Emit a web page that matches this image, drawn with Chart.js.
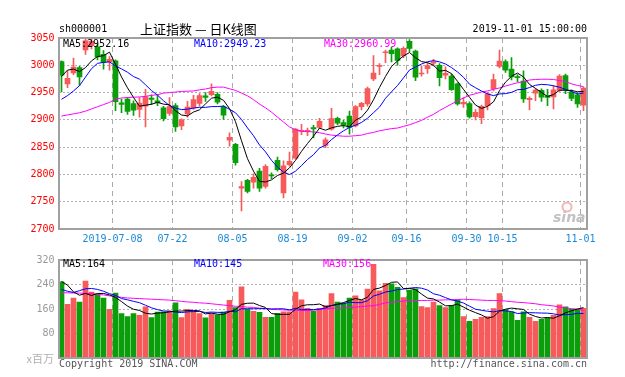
<!DOCTYPE html>
<html>
<head>
<meta charset="utf-8">
<script src="https://cdn.jsdelivr.net/npm/chart.js@4.4.0/dist/chart.umd.min.js"></script>
<style>
    body { margin: 0; background: #fff; width: 625px; height: 377px; overflow: hidden; position: relative; }
    #grafico-k { position: absolute; left: 0; top: 0; }
    #grafico-vol { position: absolute; left: 0; top: 250px; }
</style>
</head>
<body>
<canvas id="grafico-k" width="625" height="250"></canvas>
<canvas id="grafico-vol" width="625" height="127"></canvas>
<script>
var dias = [
    '2019-06-25','2019-06-26','2019-06-27','2019-06-28',
    '2019-07-01','2019-07-02','2019-07-03','2019-07-04','2019-07-05','2019-07-08','2019-07-09','2019-07-10','2019-07-11','2019-07-12',
    '2019-07-15','2019-07-16','2019-07-17','2019-07-18','2019-07-19','2019-07-22','2019-07-23','2019-07-24','2019-07-25','2019-07-26',
    '2019-07-29','2019-07-30','2019-07-31',
    '2019-08-01','2019-08-02','2019-08-05','2019-08-06','2019-08-07','2019-08-08','2019-08-09','2019-08-12','2019-08-13','2019-08-14',
    '2019-08-15','2019-08-16','2019-08-19','2019-08-20','2019-08-21','2019-08-22','2019-08-23','2019-08-26','2019-08-27','2019-08-28',
    '2019-08-29','2019-08-30',
    '2019-09-02','2019-09-03','2019-09-04','2019-09-05','2019-09-06','2019-09-09','2019-09-10','2019-09-11','2019-09-12','2019-09-16',
    '2019-09-17','2019-09-18','2019-09-19','2019-09-20','2019-09-23','2019-09-24','2019-09-25','2019-09-26','2019-09-27','2019-09-30',
    '2019-10-08','2019-10-09','2019-10-10','2019-10-11','2019-10-14','2019-10-15','2019-10-16','2019-10-17','2019-10-18','2019-10-21',
    '2019-10-22','2019-10-23','2019-10-24','2019-10-25','2019-10-28','2019-10-29','2019-10-30','2019-10-31',
    '2019-11-01'
];
var diasMarcados = ['2019-07-08','2019-07-22','2019-08-05','2019-08-19','2019-09-02','2019-09-16','2019-09-30','2019-10-15','2019-11-01'];

var abertura = [3007,2966,2986,2996,3028,3036,3034,3020,3006,3008,
    2931,2938,2930,2919,2925,2940,2935,2922,2912,2926,
    2889,2911,2922,2930,2944,2946,2947,2924,2863,2855,
    2775,2789,2786,2806,2778,2799,2826,2766,2818,2830,
    2879,2879,2886,2886,2853,2883,2903,2895,2907,2889,
    2924,2929,2975,2998,3023,3028,3030,3017,3044,3026,
    2984,2994,3004,3000,2982,2980,2966,2929,2930,2906,
    2904,2926,2957,2998,3007,2993,2978.5,2971,2937,2949,
    2954,2944,2942,2954,2981,2951,2946,2927];
var maxima = [3008,2990,3013,2998,3049,3048,3040,3027,3016,3010,
    2938,2941,2935,2941,2956,2946,2946,2925,2941,2930,
    2902,2934,2945,2948,2950,2966,2950,2926,2876,2857,
    2787,2791,2801,2811,2818,2803,2832,2825,2841,2884,
    2892,2885,2890,2903,2867,2921,2905,2899,2916,2926,
    2932,2960,3018,3003,3028,3033,3032,3034,3047,3028,
    2999,3004,3011,3003,2997,2984,2968,2941,2933,2919,
    2927,2950,2984,3028,3010,3014,2983,2990,2942,2957,
    2957,2956,2963,2983,2984,2955,2950,2960];
var minima = [2951,2959,2983,2963,3020,3030,3010,2993,2991,2917,
    2913,2910,2908,2905,2887,2928,2926,2898,2908,2879,
    2882,2905,2919,2925,2934,2944,2929,2901,2852,2817,
    2733,2766,2775,2769,2775,2792,2806,2757,2815,2828,
    2873,2871,2867,2884,2849,2881,2891,2885,2874,2887,
    2918,2925,2972,2983,3005,3006,3000,3014,3025,2972,
    2980,2985,2999,2962,2975,2954,2927,2923,2903,2900,
    2893,2918,2953,2995,2987,2973,2970,2932,2918,2935,
    2934,2926,2920,2952,2948,2935,2923,2917];
var fechamento = [2982.07,2976.28,2996.79,2978.88,3044.90,3043.94,3015.26,3005.25,3011.06,2933.36,
    2928.23,2915.30,2917.76,2930.55,2942.19,2937.62,2931.69,2901.95,2924.20,2886.97,
    2899.94,2923.28,2937.36,2944.54,2941.01,2952.34,2932.51,2908.77,2867.84,2821.50,
    2777.56,2768.68,2794.55,2774.75,2814.99,2797.26,2808.91,2815.80,2823.82,2883.10,
    2880.00,2880.33,2883.44,2897.43,2863.57,2902.19,2893.76,2890.92,2886.24,2924.11,
    2930.15,2957.41,2985.86,2999.60,3024.74,3021.20,3008.81,3031.24,3030.75,2978.12,
    2985.34,2999.28,3006.45,2977.08,2985.34,2955.43,2929.09,2932.17,2905.19,2913.57,
    2924.86,2947.71,2973.66,3007.88,2991.05,2978.71,2977.33,2938.14,2939.62,2954.38,
    2941.62,2940.92,2954.93,2980.05,2954.18,2939.32,2929.06,2958.20];

var ma5 = [2979.42,2991.12,2993.05,2988.43,2995.78,3008.16,3015.95,3017.65,3024.08,3001.77,
    2978.63,2958.64,2941.14,2925.04,2926.81,2928.68,2931.96,2928.80,2927.53,2916.49,
    2908.95,2907.27,2914.35,2918.42,2929.23,2939.71,2941.55,2935.83,2920.49,2896.59,
    2861.64,2828.87,2806.03,2787.41,2786.11,2790.05,2798.09,2802.34,2812.16,2825.78,
    2842.33,2856.61,2870.14,2884.86,2880.95,2885.39,2888.08,2889.57,2887.34,2899.44,
    2905.04,2917.77,2936.75,2959.43,2979.55,2997.76,3008.04,3017.12,3023.35,3014.02,
    3006.85,3004.95,2999.99,2989.25,2990.70,2984.72,2970.68,2955.82,2941.44,2927.09,
    2920.98,2924.70,2933.00,2953.54,2969.03,2979.80,2985.73,2978.62,2964.97,2957.64,
    2950.22,2942.94,2946.29,2954.38,2954.34,2953.88,2951.51,2952.16];
var ma10 = [2937.70,2944.39,2952.99,2962.69,2978.41,2993.79,3003.54,3005.35,3006.26,2998.78,
    2993.40,2987.30,2979.39,2974.56,2964.29,2953.66,2945.30,2934.97,2926.29,2921.65,
    2918.82,2919.62,2921.58,2922.97,2922.86,2924.33,2924.41,2925.09,2919.46,2912.91,
    2900.67,2885.21,2870.93,2853.95,2841.35,2825.84,2813.48,2804.18,2799.78,2805.94,
    2816.19,2827.35,2836.24,2848.51,2853.37,2863.86,2872.34,2879.86,2886.10,2890.20,
    2895.21,2902.92,2913.16,2923.38,2939.50,2951.40,2962.90,2976.94,2991.39,2996.79,
    3002.31,3006.49,3008.55,3006.30,3002.36,2995.78,2987.81,2977.91,2965.35,2958.89,
    2952.85,2947.69,2944.41,2947.49,2948.06,2950.39,2955.21,2955.81,2959.25,2963.33,
    2965.01,2964.33,2962.46,2959.68,2955.99,2952.05,2947.22,2949.23];
var ma30 = [2907,2909,2911,2913,2916,2920,2924,2928,2932,2938,
    2940,2941,2941.5,2942,2943,2945,2946,2949,2950,2951,
    2952,2952.5,2953,2955,2956.5,2959,2960,2960,2957,2954,
    2949,2944,2937,2929,2922,2914,2905,2896,2887,2882,
    2879,2878.5,2878,2876.5,2874,2872,2871,2870,2870,2871,
    2872,2875,2877,2880,2882,2884,2885,2888,2891,2895,
    2899,2905,2910,2917,2923,2929,2935,2940,2945,2948,
    2951,2953,2956,2958.5,2962,2965,2968,2970,2973,2974,
    2974.4,2974.4,2974,2972,2970,2966,2963,2960.99];

var volume = [249,175,196,183,251,215,209,196,159,212,
    145,135,145,139,167,132,150,151,153,180,
    132,159,153,145,131,145,141,150,188,165,
    232,159,152,149,133,133,146,151,151,215,
    190,162,152,162,171,210,183,179,196,203,
    189,225,306,219,244,242,231,197,222,226,
    168,165,183,171,165,171,189,135,120,126,
    133,135,161,210,158,151,123,151,133,120,
    126,131,139,174,167,160,160,162];
var volMa5 = [250,238,216,205,210.8,204,210.8,210.8,206,198.2,
    184.2,169.4,159.2,155.2,146.2,143.6,146.6,147.8,150.6,153.2,
    153.2,155,155.4,153.8,144,146.6,143,142.4,151,157.8,
    175.2,178.8,179.2,171.4,165,145.2,142.6,142.4,142.8,159.2,
    170.6,173.8,174,176.2,167.4,171.4,175.6,181,187.8,194.2,
    190,198.4,223.8,228.4,236.6,247.2,248.4,226.6,227.2,223.6,
    208.8,195.6,192.8,182.6,170.4,171,175.8,166.2,156,148.2,
    140.6,129.8,135,153,159.4,163,160.6,158.6,143.2,135.6,
    130.6,132.2,129.8,138,147.4,154.2,160,164.6];
var volMa10 = [224,218,214,220,226,227,224,218,210,204.5,
    194.1,190.1,185,180.6,172.2,163.9,158,153.5,152.9,149.7,
    148.4,150.8,151.6,152.2,148.6,149.9,149,148.9,152.4,150.9,
    160.9,160.9,160.8,161.2,161.4,160.2,160.7,160.8,157.1,162.1,
    157.9,158.2,158.2,159.5,163.3,171,174.7,177.5,182,180.8,
    180.7,187,202.4,208.1,215.4,218.6,223.4,225.2,227.8,230.1,
    228,222,209.7,204.9,197,189.9,185.7,179.5,169.3,159.3,
    155.8,152.8,150.6,154.5,153.8,151.8,145.2,146.8,148.1,147.5,
    146.8,146.4,144.2,140.6,141.5,142.4,146.1,145.2];
var volMa30 = [213,213,212,212,211,210,208,206,203,201,
    198,196,195,194,193,192,191,190,189,187,
    185,183,182,180,179,177,175,173,171,169,
    168,166,165,163,161,159,158,157,156,156,
    155,155,156,158,161,162,163,164,165,166,
    168,170,171,175,180,182,184,186,187,187,
    188,188,189,189,190,190,191,192,191,190,
    189,188,188,187,186,184,182,181,179,177,
    174,172,170,166,164,161,159,156];

var precoMin = 2700, precoMax = 3050, precoPasso = 50;
var volMin = 0, volMax = 320, volPasso = 80;

var vermelho = '#f75a5a';
var verde = '#0a9e0a';
var mono = '"DejaVu Sans Mono", monospace';

Chart.defaults.font.family = mono;
Chart.defaults.font.size = 10;

var cores = fechamento.map(function(c, i) { return c >= abertura[i] ? vermelho : verde; });

function rotuloDia(i) {
    var d = dias[i];
    if (diasMarcados.indexOf(d) < 0) return '';
    return d === diasMarcados[0] ? d : d.slice(5);
}

function corGradeX(ctx) {
    return diasMarcados.indexOf(dias[ctx.index]) >= 0 ? '#aaaaaa' : 'rgba(0,0,0,0)';
}

function linhaMedia(dados, cor) {
    return { type: 'line', data: dados, borderColor: cor, borderWidth: 1, pointRadius: 0, tension: 0, order: 0 };
}

function moldura(chart) {
    var ctx = chart.ctx, a = chart.chartArea;
    ctx.strokeStyle = '#a0a0a0';
    ctx.lineWidth = 2;
    ctx.strokeRect(Math.round(a.left), Math.round(a.top), Math.round(a.right) - Math.round(a.left), Math.round(a.bottom) - Math.round(a.top));
}

var textosK = {
    id: 'textosK',
    beforeDraw: function(chart) {
        chart.ctx.save();
        chart.ctx.fillStyle = '#fff';
        chart.ctx.fillRect(0, 0, chart.width, chart.height);
        chart.ctx.restore();
    },
    afterDraw: function(chart) {
        var ctx = chart.ctx;
        ctx.save();
        moldura(chart);
        ctx.textBaseline = 'middle';
        ctx.font = '10px ' + mono;
        ctx.fillStyle = '#000';
        ctx.textAlign = 'left';
        ctx.fillText('sh000001', 59, 29);
        ctx.textAlign = 'right';
        ctx.fillText('2019-11-01 15:00:00', 587, 29);
        ctx.textAlign = 'left';
        ctx.font = '13px "Noto Sans CJK SC"';
        ctx.fillText('上证指数 — 日K线图', 140, 29);

        ctx.font = '10px ' + mono;
        ctx.fillStyle = '#000';
        ctx.fillText('MA5:' + ma5[ma5.length - 1].toFixed(2), 63, 44);
        ctx.fillStyle = '#0000ff';
        ctx.fillText('MA10:' + ma10[ma10.length - 1].toFixed(2), 194, 44);
        ctx.fillStyle = '#ff00ff';
        ctx.fillText('MA30:' + ma30[ma30.length - 1].toFixed(2), 324, 44);

        // marca d'agua sina
        ctx.strokeStyle = '#f6b4b4';
        ctx.lineWidth = 2;
        ctx.beginPath();
        ctx.arc(567, 207, 4.5, 0, Math.PI * 2);
        ctx.stroke();
        ctx.font = 'italic bold 14px "DejaVu Sans"';
        ctx.fillStyle = '#c2c2c2';
        ctx.fillText('sina', 553, 218);
        ctx.restore();
    }
};

var textosVol = {
    id: 'textosVol',
    beforeDraw: textosK.beforeDraw,
    afterDraw: function(chart) {
        var ctx = chart.ctx;
        ctx.save();
        moldura(chart);
        ctx.textBaseline = 'middle';
        ctx.textAlign = 'left';
        ctx.font = '10px ' + mono;
        ctx.fillStyle = '#000';
        ctx.fillText('MA5:' + Math.floor(volMa5[volMa5.length - 1]), 63, 14.5);
        ctx.fillStyle = '#0000ff';
        ctx.fillText('MA10:' + Math.floor(volMa10[volMa10.length - 1]), 194, 14.5);
        ctx.fillStyle = '#ff00ff';
        ctx.fillText('MA30:' + Math.floor(volMa30[volMa30.length - 1]), 323, 14.5);

        ctx.fillStyle = '#555';
        ctx.fillText('Copyright 2019 SINA.COM', 59, 114);
        ctx.textAlign = 'right';
        ctx.fillText('http://finance.sina.com.cn', 587, 114);
        ctx.fillStyle = '#b0b0b0';
        ctx.font = '11px "Noto Sans CJK SC"';
        ctx.fillText('x百万', 54, 108.5);
        ctx.restore();
    }
};

new Chart(document.getElementById('grafico-k'), {
    type: 'bar',
    data: {
        labels: dias,
        datasets: [
            linhaMedia(ma5, '#000000'),
            linhaMedia(ma10, '#0000ff'),
            linhaMedia(ma30, '#ff00ff'),
            {
                data: abertura.map(function(o, i) { return [o, fechamento[i]]; }),
                backgroundColor: cores,
                barThickness: 5,
                minBarLength: 1,
                grouped: false,
                order: 1
            },
            {
                data: minima.map(function(l, i) { return [l, maxima[i]]; }),
                backgroundColor: cores,
                barThickness: 1,
                grouped: false,
                order: 2
            }
        ]
    },
    options: {
        responsive: false,
        animation: false,
        layout: { padding: { top: 38, right: 38.5, left: 0, bottom: 0 } },
        plugins: { legend: { display: false }, tooltip: { enabled: false } },
        scales: {
            x: {
                offset: true,
                grid: { offset: true, drawTicks: false, color: corGradeX, lineWidth: 1 },
                border: { display: false, dash: [5, 4] },
                ticks: {
                    autoSkip: false, maxRotation: 0, padding: 4, labelOffset: -3,
                    color: '#1a88d8',
                    callback: function(v, i) { return rotuloDia(i); }
                },
                afterFit: function(s) { s.height = 21; }
            },
            y: {
                min: precoMin, max: precoMax,
                ticks: {
                    stepSize: precoPasso, color: '#ff0000', padding: 4,
                    callback: function(v) { return String(v); }
                },
                grid: {
                    drawTicks: false,
                    color: function(c) {
                        if (!c.tick || c.tick.value === precoMin || c.tick.value === precoMax) return 'rgba(0,0,0,0)';
                        return '#b0b0b0';
                    }
                },
                border: { display: false, dash: [2, 2] },
                afterFit: function(s) { s.width = 58.5; }
            }
        }
    },
    plugins: [textosK]
});

new Chart(document.getElementById('grafico-vol'), {
    type: 'bar',
    data: {
        labels: dias,
        datasets: [
            linhaMedia(volMa5, '#000000'),
            linhaMedia(volMa10, '#0000ff'),
            linhaMedia(volMa30, '#ff00ff'),
            {
                data: volume,
                backgroundColor: cores,
                barThickness: 5,
                order: 1
            }
        ]
    },
    options: {
        responsive: false,
        animation: false,
        layout: { padding: { top: 9, right: 38.5, left: 0, bottom: 19 } },
        plugins: { legend: { display: false }, tooltip: { enabled: false } },
        scales: {
            x: {
                offset: true,
                grid: { offset: true, drawTicks: false, color: corGradeX, lineWidth: 1 },
                border: { display: false, dash: [5, 4] },
                ticks: { display: false }
            },
            y: {
                min: volMin, max: volMax,
                ticks: {
                    stepSize: volPasso, color: '#999999', padding: 4,
                    callback: function(v) { return v === 0 ? '' : String(v); }
                },
                grid: {
                    drawTicks: false,
                    color: function(c) {
                        if (!c.tick || c.tick.value === volMin || c.tick.value === volMax) return 'rgba(0,0,0,0)';
                        return '#b0b0b0';
                    }
                },
                border: { display: false, dash: [2, 2] },
                afterFit: function(s) { s.width = 58.5; }
            }
        }
    },
    plugins: [textosVol]
});
</script>
</body>
</html>
